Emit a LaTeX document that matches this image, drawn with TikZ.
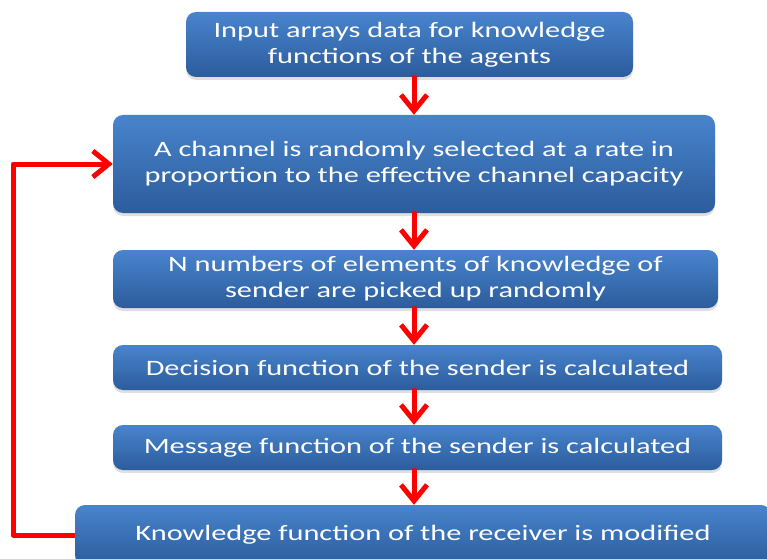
\documentclass[tikz,border=0pt]{standalone}
\usepackage{fontspec}
\setmainfont{Carlito}[FakeStretch=1.38]
\usepackage{tikz}
\usetikzlibrary{arrows.meta}
\usetikzlibrary{shadows}

\definecolor{boxtop}{RGB}{72,132,205}
\definecolor{boxbot}{RGB}{44,92,156}
\definecolor{flowred}{RGB}{255,0,0}

\tikzset{
	stepbox/.style={rounded corners=10pt, top color=boxtop, bottom color=boxbot,
		text=white, align=center, inner sep=0pt,
		font=\fontsize{22}{26}\selectfont,
		drop shadow={opacity=0.25, shadow xshift=0pt, shadow yshift=-3pt}},
	flow/.style={draw=flowred, line width=5pt,
		-{Straight Barb[length=16pt, width=26pt]}}
}

\begin{document}
\begin{tikzpicture}[x=1pt, y=1pt, line cap=round, line join=round]
			\useasboundingbox (0,0) rectangle (767,558);
			
			% Steps of the procedure, top to bottom
			\node[stepbox, minimum width=447pt, minimum height=65pt] (input) at (409.5,513.5)
				{Input arrays data for knowledge\\functions of the agents};
			\node[stepbox, minimum width=602pt, minimum height=98pt] (channel) at (414,394)
				{A channel is randomly selected at a rate in\\proportion to the effective channel capacity};
			\node[stepbox, minimum width=605pt, minimum height=58pt] (pick) at (415.5,279)
				{N numbers of elements of knowledge of\\sender are picked up randomly};
			\node[stepbox, minimum width=609pt, minimum height=45pt] (decision) at (417.5,190.5)
				{Decision function of the sender is calculated};
			\node[stepbox, minimum width=609pt, minimum height=45pt] (message) at (417.5,110.5)
				{Message function of the sender is calculated};
			\node[stepbox, minimum width=696pt, minimum height=60pt] (modify) at (423,23)
				{Knowledge function of the receiver is modified};
			
			% Downward arrows between the steps
			\draw[flow] (input.south -| 414,0) -- (channel.north -| 414,0);
			\draw[flow] (channel.south -| 414,0) -- (pick.north -| 414,0);
			\draw[flow] (pick.south -| 414,0) -- (decision.north -| 414,0);
			\draw[flow] (decision.south -| 414,0) -- (message.north -| 414,0);
			\draw[flow] (message.south -| 414,0) -- (modify.north -| 414,0);
			
			% Loop back to the channel selection
			\coordinate (back) at (13,23);
			\draw[flow, line cap=butt] (modify.west) -- (back) |- (channel.west);
		\end{tikzpicture}
\end{document}
